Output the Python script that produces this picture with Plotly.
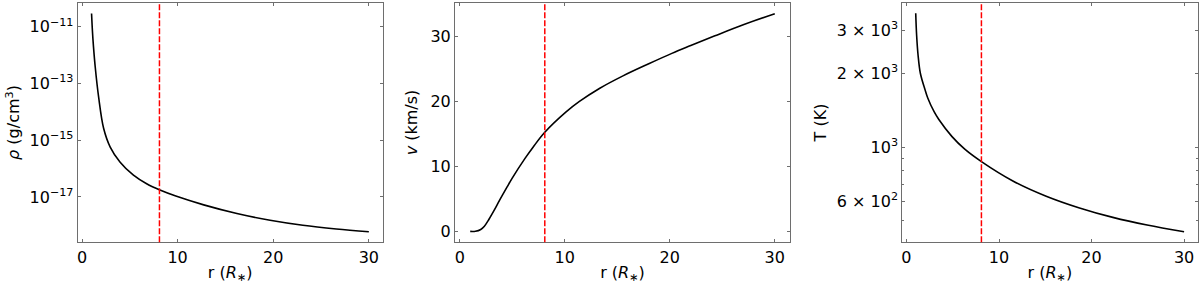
import plotly.graph_objects as go
from plotly.subplots import make_subplots

# ---- data ----
r_rho = [1.0, 1.1, 1.2, 1.38, 1.74, 2.26, 2.95, 3.99, 5.38, 6.76, 8.15, 9.81,
         12.73, 16.2, 19.67, 23.1, 26.6, 30.0]
rho = [2.95e-11, 6.3e-12, 2.0e-12, 3.9e-13, 3.3e-14, 2.65e-15, 5.75e-16, 1.67e-16,
       5.82e-17, 2.9e-17, 1.74e-17, 1.07e-17, 5.25e-18, 2.6e-18, 1.5e-18, 1.0e-18,
       7.4e-19, 5.9e-19]

r_v = [1.0, 1.5, 2.0, 2.35, 2.8, 3.3, 3.8, 4.5, 5.0, 6.2, 7.0, 8.1, 10.1, 11.4,
       13.3, 15.5, 18.0, 20.2, 22.0, 24.3, 27.0, 30.0]
v = [0.0, 0.02, 0.3, 0.8, 1.9, 3.3, 4.8, 6.8, 8.2, 11.2, 13.0, 15.25, 18.35, 20.0,
     22.0, 23.9, 25.8, 27.4, 28.6, 30.1, 31.8, 33.5]

r_T = [1.0, 1.1, 1.25, 1.5, 2.0, 2.3, 3.0, 3.5, 4.9, 6.3, 8.1, 11.5, 15.1, 18.7,
       22.3, 26.0, 30.0]
T = [3515, 2850, 2380, 2000, 1717, 1585, 1390, 1295, 1105, 980, 872, 727, 630,
     564, 516, 480, 451]

r_crit = 8.1

x_ticks = [0, 10, 20, 30]
rho_ticks = [1e-11, 1e-13, 1e-15, 1e-17]
rho_ticktext = ["10<sup>−11</sup>", "10<sup>−13</sup>", "10<sup>−15</sup>", "10<sup>−17</sup>"]
v_ticks = [0, 10, 20, 30]
T_ticks = [600, 1000, 2000, 3000]
T_ticktext = ["6 × 10<sup>2</sup>", "10<sup>3</sup>", "2 × 10<sup>3</sup>", "3 × 10<sup>3</sup>"]
T_minor = [400, 500, 700, 800, 900]

# ---- figure ----
fig = make_subplots(rows=1, cols=3)

line_style = dict(color="black", width=1.6, shape="spline", smoothing=1.0)
fig.add_trace(go.Scatter(x=r_rho, y=rho, mode="lines", line=line_style, showlegend=False), 1, 1)
fig.add_trace(go.Scatter(x=r_v, y=v, mode="lines", line=line_style, showlegend=False), 1, 2)
fig.add_trace(go.Scatter(x=r_T, y=T, mode="lines", line=line_style, showlegend=False), 1, 3)

frame = "#6e6e6e"
font = dict(family="DejaVu Sans", size=16, color="black")

common_axis = dict(showline=True, linecolor=frame, linewidth=1, mirror="allticks",
                   ticks="inside", ticklen=3, tickcolor=frame, tickwidth=1,
                   showgrid=False, zeroline=False, tickfont=font)

xdomains = [[77.7 / 1200, 382.7 / 1200], [455 / 1200, 790 / 1200], [902.3 / 1200, 1197.5 / 1200]]
ydomain = [1 - 242.3 / 284, 1 - 2.7 / 284]

for i, xd in enumerate(xdomains, start=1):
    key = "xaxis" if i == 1 else f"xaxis{i}"
    fig.layout[key].update(domain=xd, range=[-0.45, 31.45], tickvals=x_ticks,
                           title=dict(text="r (<i>R</i><sub>∗</sub>)", font=font, standoff=2),
                           **common_axis)
    ykey = "yaxis" if i == 1 else f"yaxis{i}"
    fig.layout[ykey].update(domain=ydomain, **common_axis)

fig.layout.yaxis.update(type="log", range=[-18.6, -10.15], tickvals=rho_ticks,
                        ticktext=rho_ticktext,
                        title=dict(text="<i>ρ</i> (g/cm<sup>3</sup>)", font=font, standoff=5))
fig.layout.yaxis2.update(range=[-1.68, 35.2], tickvals=v_ticks,
                         title=dict(text="<i>v</i> (km/s)", font=font, standoff=8))
fig.layout.yaxis3.update(type="log", range=[2.611, 3.589], tickvals=T_ticks,
                         ticktext=T_ticktext,
                         minor=dict(tickvals=T_minor, ticks="inside", ticklen=2, tickcolor=frame),
                         title=dict(text="T (K)", font=font, standoff=6))

for i in range(1, 4):
    xr = "x" if i == 1 else f"x{i}"
    yr = "y domain" if i == 1 else f"y{i} domain"
    fig.add_shape(type="line", xref=xr, yref=yr, x0=r_crit, x1=r_crit, y0=0, y1=1,
                  line=dict(color="red", width=1.5, dash="6px,2px"))

fig.update_layout(width=1200, height=284, margin=dict(l=0, r=0, t=0, b=0),
                  paper_bgcolor="white", plot_bgcolor="white", font=font)

fig.write_html("out.html", config={"displayModeBar": False},
               post_script="document.body.style.margin='0px';document.body.style.overflow='hidden';")
